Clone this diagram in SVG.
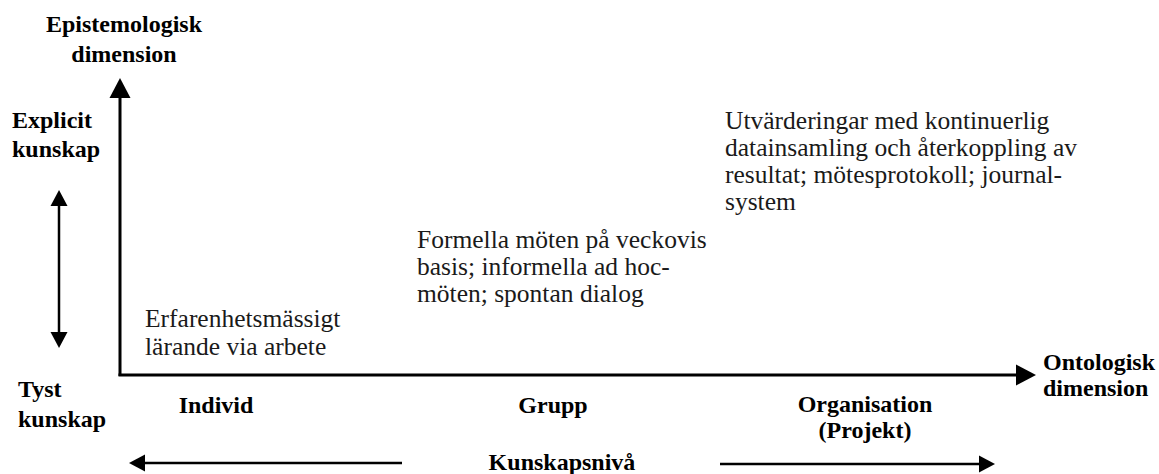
<svg xmlns="http://www.w3.org/2000/svg" width="1159" height="474" viewBox="0 0 1159 474">
<style>
.b{font-family:"Liberation Serif","Tinos","Noto Serif","DejaVu Serif",serif;font-weight:bold;font-size:24px;fill:#000}
.r{font-family:"Liberation Serif","Tinos","Noto Serif","DejaVu Serif",serif;font-size:25.5px;fill:#1a1a1a}
.ax{stroke:#000;stroke-width:3;fill:none}
.ar{stroke:#000;stroke-width:2.5;fill:none}
</style>
<defs>
<marker id="big" markerUnits="userSpaceOnUse" markerWidth="22" markerHeight="22" refX="0" refY="10.5" orient="auto" viewBox="0 0 22 21">
<path d="M0,0 L20,10.5 L0,21 Z" fill="#000"/>
</marker>
<marker id="small" markerUnits="userSpaceOnUse" markerWidth="18" markerHeight="18" refX="0" refY="8.5" orient="auto-start-reverse" viewBox="0 0 18 17">
<path d="M0,0 L16,8.5 L0,17 Z" fill="#000"/>
</marker>
</defs>
<g id="connectors">
<path class="ax" d="M120,376 L120,98" marker-end="url(#big)"/>
<path class="ax" d="M118.5,375 L1016,375" marker-end="url(#big)"/>
<path class="ar" d="M59,206 L59,332" marker-start="url(#small)" marker-end="url(#small)"/>
<path class="ar" d="M402,463 L145,463" marker-end="url(#small)"/>
<path class="ar" d="M720,464 L979,464" marker-end="url(#small)"/>
</g>
<g id="epistemologisk">
<text class="b" x="124" y="32" text-anchor="middle">Epistemologisk</text>
<text class="b" x="124" y="62" text-anchor="middle">dimension</text>
</g>
<g id="explicit">
<text class="b" x="12" y="128">Explicit</text>
<text class="b" x="12" y="157">kunskap</text>
</g>
<g id="tyst">
<text class="b" x="18" y="397">Tyst</text>
<text class="b" x="18" y="427">kunskap</text>
</g>
<g id="ontologisk">
<text class="b" x="1043" y="370">Ontologisk</text>
<text class="b" x="1043" y="396">dimension</text>
</g>
<g id="individ"><text class="b" x="216" y="413" text-anchor="middle">Individ</text></g>
<g id="grupp"><text class="b" x="553" y="413" text-anchor="middle">Grupp</text></g>
<g id="organisation">
<text class="b" x="865" y="412" text-anchor="middle">Organisation</text>
<text class="b" x="865" y="438" text-anchor="middle">(Projekt)</text>
</g>
<g id="kunskapsniva"><text class="b" x="562" y="470" text-anchor="middle">Kunskapsnivå</text></g>
<g id="individ-text">
<text class="r" x="145" y="327">Erfarenhetsmässigt</text>
<text class="r" x="145" y="355">lärande via arbete</text>
</g>
<g id="grupp-text">
<text class="r" x="417" y="248">Formella möten på veckovis</text>
<text class="r" x="417" y="275">basis; informella ad hoc-</text>
<text class="r" x="417" y="302">möten; spontan dialog</text>
</g>
<g id="organisation-text">
<text class="r" x="725" y="129">Utvärderingar med kontinuerlig</text>
<text class="r" x="725" y="156">datainsamling och återkoppling av</text>
<text class="r" x="725" y="183">resultat; mötesprotokoll; journal-</text>
<text class="r" x="725" y="210">system</text>
</g>
</svg>
